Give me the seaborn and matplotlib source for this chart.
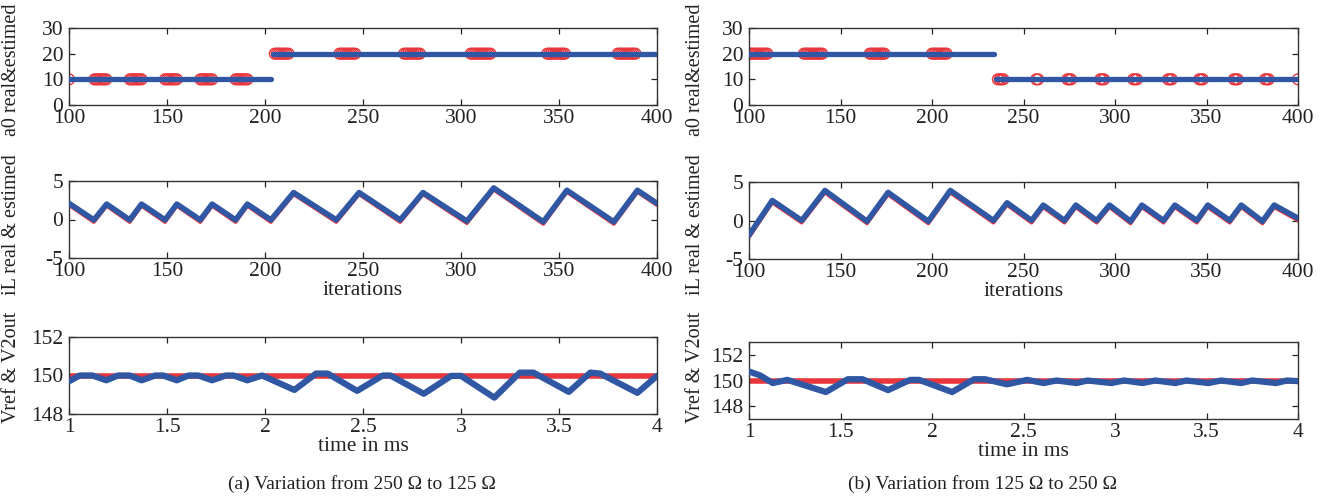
import numpy as np
import pandas as pd
import matplotlib
matplotlib.use("Agg")
import matplotlib.pyplot as plt
import seaborn as sns

# ---------------- data ----------------
# (a) 250 -> 125 ohm
a_a0_est_x = [100, 203, 204, 400]
a_a0_est_y = [10, 10, 20, 20]
a_a0_est_seg = [0, 0, 1, 1]
a_a0_real_low_x = [100, 113, 114, 115, 116, 117, 118, 119, 131, 132, 133, 134, 135, 136, 137,
                   149, 150, 151, 152, 153, 154, 155, 167, 168, 169, 170, 171, 172, 173,
                   185, 186, 187, 188, 189, 190, 191]
a_a0_real_high_x = [205, 206, 207, 208, 209, 210, 211, 212, 238, 239, 240, 241, 242, 243, 244, 245, 246,
                    271, 272, 273, 274, 275, 276, 277, 278, 279, 305, 306, 307, 308, 309, 310, 311, 312,
                    313, 314, 315, 344, 345, 346, 347, 348, 349, 350, 351, 352, 353,
                    380, 381, 382, 383, 384, 385, 386, 387, 388, 389]

a_il_x = [100, 112.7, 119.2, 131, 137, 149, 155, 167, 173, 185, 191, 203, 214.6, 236.4, 248,
          269, 280.6, 303, 316.7, 342, 354, 378, 390, 400]
a_il_est = [2.1, -0.05, 2.0, -0.05, 2.0, -0.05, 2.0, -0.05, 2.0, -0.05, 2.0, -0.05, 3.5, -0.05,
            3.5, -0.05, 3.5, -0.2, 4.1, -0.3, 3.8, -0.3, 3.8, 2.1]
a_il_real = [1.85, -0.35, 1.75, -0.35, 1.75, -0.35, 1.75, -0.35, 1.75, -0.35, 1.75, -0.35, 3.25, -0.35,
             3.25, -0.35, 3.25, -0.5, 3.85, -0.6, 3.55, -0.6, 3.55, 1.85]

a_v_t = [1.0, 1.055, 1.12, 1.19, 1.25, 1.31, 1.37, 1.44, 1.48, 1.55, 1.61, 1.66, 1.73, 1.80, 1.84,
         1.91, 1.985, 2.15, 2.26, 2.32, 2.47, 2.60, 2.64, 2.81, 2.95, 3.0, 3.17, 3.30, 3.37, 3.55,
         3.66, 3.71, 3.90, 4.0]
a_v_out = [149.7, 150.0, 150.0, 149.75, 150.0, 150.0, 149.75, 150.0, 150.0, 149.75, 150.0, 150.0,
           149.75, 150.0, 150.0, 149.75, 150.0, 149.25, 150.1, 150.1, 149.2, 150.0, 150.0, 149.05,
           149.98, 149.98, 148.85, 150.15, 150.15, 149.15, 150.15, 150.1, 149.1, 149.98]
a_v_ref_t = [1.0, 4.0]
a_v_ref = [150, 150]

# (b) 125 -> 250 ohm
b_a0_est_x = [100, 234, 235, 400]
b_a0_est_y = [20, 20, 10, 10]
b_a0_est_seg = [0, 0, 1, 1]
b_a0_real_high_x = [100, 101, 102, 103, 104, 105, 106, 107, 108, 109, 110,
                    130, 131, 132, 133, 134, 135, 136, 137, 138, 139, 140,
                    166, 167, 168, 169, 170, 171, 172, 173, 174,
                    200, 201, 202, 203, 204, 205, 206, 207, 208]
b_a0_real_low_x = [236, 237, 238, 239, 257, 258, 274, 275, 276, 292, 293, 294, 310, 311, 312,
                   329, 330, 331, 346, 347, 348, 365, 366, 367, 382, 383, 384, 400]

b_il_x = [100, 112.7, 128.8, 141.5, 164.5, 176, 198, 210, 233.6, 241, 254.4, 260.8, 272.4, 278.6,
          290, 297, 308.5, 314.7, 326.5, 332.7, 344.7, 350.7, 362.7, 369, 380.6, 387, 400]
b_il_est = [-1.9, 2.6, 0.0, 3.9, -0.1, 3.65, -0.1, 3.9, 0.0, 2.3, 0.0, 2.0, 0.0, 2.0,
            0.0, 2.0, -0.1, 2.0, 0.0, 2.0, 0.0, 2.0, 0.0, 2.0, -0.1, 2.0, 0.3]
b_il_real = [-2.2, 2.3, -0.3, 3.6, -0.4, 3.35, -0.4, 3.6, -0.3, 2.0, -0.3, 1.7, -0.3, 1.7,
             -0.3, 1.7, -0.4, 1.7, -0.3, 1.7, -0.3, 1.7, -0.3, 1.7, -0.4, 1.7, 0.0]

b_v_t = [1.0, 1.06, 1.13, 1.21, 1.42, 1.54, 1.62, 1.76, 1.88, 1.93, 2.11, 2.23, 2.29, 2.41, 2.52,
         2.61, 2.68, 2.79, 2.85, 2.98, 3.05, 3.15, 3.22, 3.33, 3.39, 3.51, 3.58, 3.69, 3.75,
         3.88, 3.94, 4.0]
b_v_out = [150.7, 150.4, 149.8, 150.05, 149.1, 150.1, 150.1, 149.25, 150.05, 150.05, 149.1, 150.1,
           150.1, 149.7, 150.05, 149.8, 150.0, 149.8, 150.0, 149.8, 150.0, 149.8, 150.0, 149.8,
           150.0, 149.8, 150.0, 149.8, 150.0, 149.8, 150.0, 149.95]
b_v_ref_t = [1.0, 4.0]
b_v_ref = [150, 150]

iter_ticks = [100, 150, 200, 250, 300, 350, 400]
time_ticks = [1, 1.5, 2, 2.5, 3, 3.5, 4]
time_labels = ["1", "1.5", "2", "2.5", "3", "3.5", "4"]

# ---------------- style ----------------
sns.set_theme(style="ticks")
plt.rcParams["font.family"] = ["Liberation Serif", "DejaVu Serif"]

RED = "#E8363C"
BLUE = "#2F57A4"
TXT = "#222222"
FS = 15.5
YFS = 14.5

fig = plt.figure(figsize=(13.22, 4.97), dpi=100)
W, H = 1322.0, 497.0


def ax_at(left, top, right, bottom):
    return fig.add_axes([left / W, (H - bottom) / H, (right - left) / W, (bottom - top) / H])


def style(ax, xticks, xlabels, xlim, yticks, ylim):
    ax.set_xlim(*xlim)
    ax.set_ylim(*ylim)
    ax.set_xticks(xticks)
    ax.set_xticklabels(xlabels)
    ax.set_yticks(yticks)
    ax.set_yticklabels([str(v) for v in yticks])
    ax.tick_params(direction="in", length=4, width=0.9, top=True, right=True,
                   labelsize=FS, colors=TXT, pad=3)
    ax.tick_params(axis="y", pad=4)
    for s in ax.spines.values():
        s.set_visible(True)
        s.set_color("#333333")
        s.set_linewidth(1.0)
    ax.set_xlabel("")
    ax.set_ylabel("")


def a0_panel(ax, est_x, est_y, seg, low_x, high_x):
    sns.scatterplot(x=low_x, y=[10] * len(low_x), ax=ax, marker="o", s=60,
                    facecolors="none", edgecolor=RED, linewidth=1.0, zorder=2)
    sns.scatterplot(x=high_x, y=[20] * len(high_x), ax=ax, marker="o", s=60,
                    facecolors="none", edgecolor=RED, linewidth=1.0, zorder=2)
    df = pd.DataFrame({"x": est_x, "y": est_y, "seg": seg})
    sns.lineplot(data=df, x="x", y="y", units="seg", estimator=None, sort=False, ax=ax,
                 color=BLUE, linewidth=3.8, zorder=3)


def il_panel(ax, x, est, real):
    sns.lineplot(x=x, y=real, ax=ax, sort=False, estimator=None, color=RED, linewidth=2.5, zorder=2)
    sns.lineplot(x=x, y=est, ax=ax, sort=False, estimator=None, color=BLUE, linewidth=4.0, zorder=3)


def v_panel(ax, rt, rv, t, v):
    sns.lineplot(x=rt, y=rv, ax=ax, sort=False, estimator=None, color=RED, linewidth=4.0, zorder=2)
    sns.lineplot(x=t, y=v, ax=ax, sort=False, estimator=None, color=BLUE, linewidth=4.5, zorder=3)


# ---- column (a) ----
ax1 = ax_at(69, 28, 657, 105)
a0_panel(ax1, a_a0_est_x, a_a0_est_y, a_a0_est_seg, a_a0_real_low_x, a_a0_real_high_x)
style(ax1, iter_ticks, [str(v) for v in iter_ticks], (100, 400), [0, 10, 20, 30], (0, 30))

ax2 = ax_at(69, 181, 657, 258)
il_panel(ax2, a_il_x, a_il_est, a_il_real)
style(ax2, iter_ticks, [str(v) for v in iter_ticks], (100, 400), [-5, 0, 5], (-5, 5))
ax2.set_xlabel("iterations", fontsize=FS, labelpad=0, color=TXT)

ax3 = ax_at(69, 337, 657, 414)
v_panel(ax3, a_v_ref_t, a_v_ref, a_v_t, a_v_out)
style(ax3, time_ticks, time_labels, (1, 4), [148, 150, 152], (148, 152))
ax3.set_xlabel("time in ms", fontsize=FS, labelpad=0, color=TXT)

# ---- column (b) ----
bx1 = ax_at(749, 28, 1298, 105)
a0_panel(bx1, b_a0_est_x, b_a0_est_y, b_a0_est_seg, b_a0_real_low_x, b_a0_real_high_x)
style(bx1, iter_ticks, [str(v) for v in iter_ticks], (100, 400), [0, 10, 20, 30], (0, 30))

bx2 = ax_at(749, 182, 1298, 259)
il_panel(bx2, b_il_x, b_il_est, b_il_real)
style(bx2, iter_ticks, [str(v) for v in iter_ticks], (100, 400), [-5, 0, 5], (-5, 5))
bx2.set_xlabel("iterations", fontsize=FS, labelpad=0, color=TXT)

bx3 = ax_at(749, 342, 1298, 419)
v_panel(bx3, b_v_ref_t, b_v_ref, b_v_t, b_v_out)
style(bx3, time_ticks, time_labels, (1, 4), [148, 150, 152], (147, 153))
bx3.set_xlabel("time in ms", fontsize=FS, labelpad=0, color=TXT)

# ---- y labels (figure text) ----
for xpix in (12, 695):
    fig.text(xpix / W, (H - 70) / H, "a0 real&estimed", rotation=90, ha="center", va="center",
             fontsize=YFS, color=TXT)
    fig.text(xpix / W, (H - 225) / H, "iL real & estimed", rotation=90, ha="center", va="center",
             fontsize=YFS, color=TXT)
    fig.text(xpix / W, (H - 367) / H, "Vref & V2out", rotation=90, ha="center", va="center",
             fontsize=YFS, color=TXT)

# ---- captions ----
fig.text(362 / W, (H - 484) / H, "(a) Variation from 250 \u03a9 to 125 \u03a9", ha="center", va="center",
         fontsize=14, color=TXT)
fig.text(982 / W, (H - 484) / H, "(b) Variation from 125 \u03a9 to 250 \u03a9", ha="center", va="center",
         fontsize=14, color=TXT)

fig.savefig("out.png", dpi=100, facecolor="white")
